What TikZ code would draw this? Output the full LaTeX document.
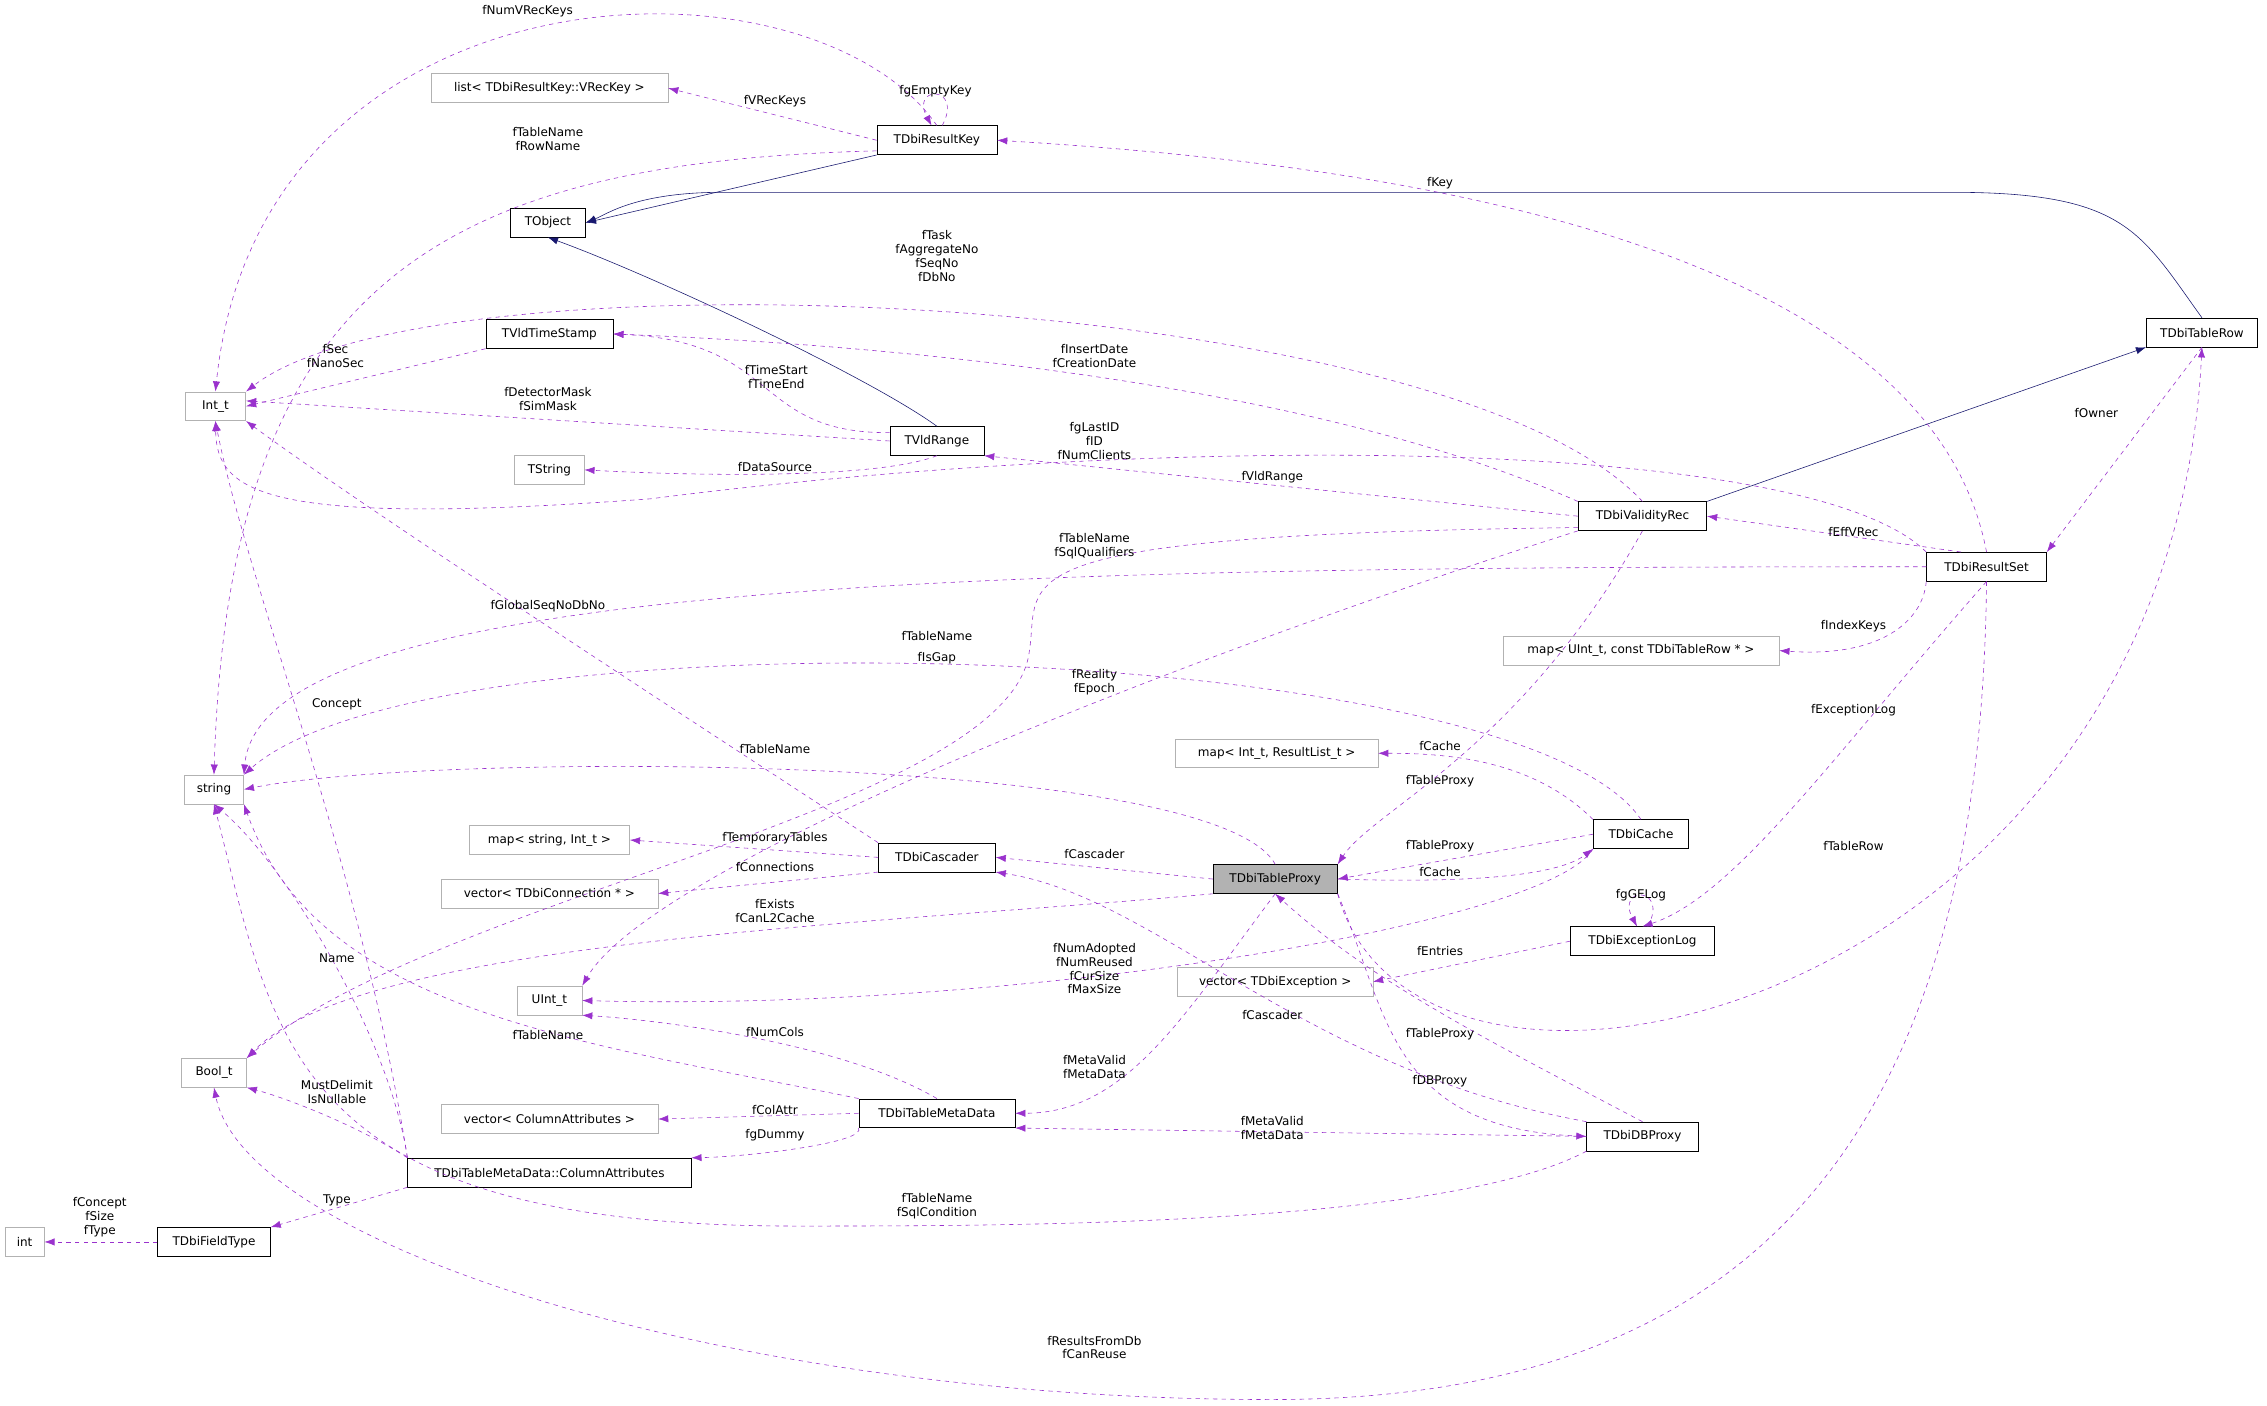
\documentclass[tikz,border=0pt]{standalone}
\usepackage{fontspec}
\setmainfont{DejaVu Sans}
\usetikzlibrary{arrows.meta}
\definecolor{dep}{HTML}{9A32CD}
\definecolor{inh}{HTML}{191970}
\begin{document}
\begin{tikzpicture}[x=1pt,y=-1pt,
  font=\fontsize{8.3}{9.6}\selectfont,
  box/.style={draw=black,fill=white,minimum height=20pt,inner sep=2pt},
  gbox/.style={draw=black!30,fill=white,minimum height=20pt,inner sep=2pt},
  dp/.style={draw=dep,dashed,-{Latex[length=7pt,width=5pt]}},
  ih/.style={draw=inh,-{Latex[length=7pt,width=5pt]}},
  lb/.style={align=center,inner sep=0pt,fill=none}]
\useasboundingbox[fill=white] (0,0) rectangle (1568,972);
% nodes
\node[box,minimum width=52pt] (to) at (379,154) {TObject};
\node[box,minimum width=83pt] (rk) at (648,97) {TDbiResultKey};
\node[gbox,minimum width=164pt] (lst) at (380,61) {list< TDbiResultKey::VRecKey >};
\node[gbox,minimum width=42pt] (int) at (149,281) {Int\_t};
\node[box,minimum width=88pt] (ts) at (380,231) {TVldTimeStamp};
\node[box,minimum width=65pt] (vr) at (648,305) {TVldRange};
\node[gbox,minimum width=48pt] (tstr) at (380,325) {TString};
\node[box,minimum width=77pt] (tr) at (1523,230) {TDbiTableRow};
\node[box,minimum width=89pt] (vrec) at (1136,357) {TDbiValidityRec};
\node[box,minimum width=83pt] (rs) at (1374,392) {TDbiResultSet};
\node[gbox,minimum width=191pt] (mapu) at (1135,450) {map< UInt\_t, const TDbiTableRow * >};
\node[gbox,minimum width=41pt] (str) at (148,546) {string};
\node[gbox,minimum width=140pt] (mapi) at (883,521) {map< Int\_t, ResultList\_t >};
\node[box,minimum width=66pt] (cache) at (1135,577) {TDbiCache};
\node[box,minimum width=86pt,fill=black!30] (tp) at (882,608) {TDbiTableProxy};
\node[box,minimum width=81pt] (cas) at (648,593) {TDbiCascader};
\node[gbox,minimum width=111pt] (maps) at (380,581) {map< string, Int\_t >};
\node[gbox,minimum width=150pt] (vcon) at (380,618) {vector< TDbiConnection * >};
\node[box,minimum width=100pt] (el) at (1136,651) {TDbiExceptionLog};
\node[gbox,minimum width=135pt] (vex) at (882,679) {vector< TDbiException >};
\node[gbox,minimum width=45pt] (uint) at (380,692) {UInt\_t};
\node[gbox,minimum width=45pt] (bool) at (148,742) {Bool\_t};
\node[box,minimum width=108pt] (tmd) at (648,770) {TDbiTableMetaData};
\node[gbox,minimum width=150pt] (vcol) at (380,774) {vector< ColumnAttributes >};
\node[box,minimum width=196pt] (ca) at (380,811) {TDbiTableMetaData::ColumnAttributes};
\node[box,minimum width=77pt] (dbp) at (1136,786) {TDbiDBProxy};
\node[box,minimum width=78pt] (ft) at (148,859) {TDbiFieldType};
\node[gbox,minimum width=27pt] (cint) at (17,859) {int};
% inheritance
\draw[ih] (rk.south west) -- (to.east);
\draw[ih] (vr.north) .. controls (600,260) and (450,190) .. (to.south);
\draw[ih] (tr.north) .. controls (1480,160) and (1470,133) .. (1350,133) -- (500,133) .. controls (440,133) and (420,148) .. (to.east);
\draw[ih] (vrec.north east) -- (tr.south west);
% dependencies
\draw[dp] (rk.north) .. controls (560,-40) and (180,-30) .. (int.north);
\draw[dp] (rk.west) -- (lst.east);
\draw[dp] (rk.70) .. controls +(15,-28) and +(-15,-28) .. (rk.110);
\draw[dp] (rk.190) .. controls (300,112) and (158,200) .. (str.north);
\draw[dp] (rs.north) .. controls (1330,150) and (900,110) .. (rk.east);
\draw[dp] (vrec.north) .. controls (1000,200) and (300,170) .. (int.north east);
\draw[dp] (ts.south west) -- (int.east);
\draw[dp] (vr.west) -- (int.10);
\draw[dp] (vr.170) .. controls (520,300) and (540,236) .. (ts.east);
\draw[dp] (vrec.north west) .. controls (900,262) and (600,238) .. (ts.east);
\draw[dp] (vr.south) .. controls (610,330) and (500,330) .. (tstr.east);
\coordinate (c12) at (450,345);
\draw[dp] (rs.north west) .. controls (1250,300) and (800,300) .. (c12) .. controls (180,365) and (150,340) .. (int.south);
\draw[dp] (vrec.west) -- (vr.south east);
\draw[dp] (tr.south) -- (rs.north east);
\draw[dp] (rs.150) -- (vrec.east);
\draw[dp] (rs.west) .. controls (700,392) and (180,400) .. (str.north east);
\draw[dp] (vrec.190) .. controls (680,370) and (720,400) .. (712,450) .. controls (700,560) and (300,620) .. (bool.north east);
\draw[dp] (cas.north west) .. controls (450,480) and (250,350) .. (int.south east);
\draw[dp] (cache.north) .. controls (1050,440) and (300,420) .. (str.north east);
\draw[dp] (rs.south west) .. controls (1330,430) and (1300,455) .. (mapu.east);
\draw[dp] (vrec.south west) .. controls (800,460) and (450,600) .. (uint.north east);
\draw[dp] (ca.north west) .. controls (250,600) and (170,400) .. (int.south);
\draw[dp] (tp.north) .. controls (840,520) and (300,520) .. (str.east);
\draw[dp] (rs.south) .. controls (1270,520) and (1200,620) .. (el.north);
\draw[dp] (vrec.south) .. controls (1050,520) and (950,560) .. (tp.north east);
\draw[dp] (cache.north west) .. controls (1060,525) and (1000,521) .. (mapi.east);
\draw[dp] (cas.west) -- (maps.east);
\draw[dp] (tp.west) -- (cas.east);
\draw[dp] (cache.west) -- (tp.east);
\draw[dp] (tp.east) .. controls (1050,612) and (1085,600) .. (cache.south west);
\draw[dp] (cas.south west) -- (vcon.east);
\draw[dp] (tp.south west) .. controls (600,640) and (250,650) .. (bool.north east);
\draw[dp] (el.70) .. controls +(15,-28) and +(-15,-28) .. (el.110);
\draw[dp] (cache.south west) .. controls (1070,640) and (700,700) .. (uint.east);
\draw[dp] (el.west) -- (vex.east);
\draw[dp] (ca.north west) .. controls (270,720) and (200,600) .. (str.south);
\draw[dp] (tmd.north west) .. controls (400,720) and (220,700) .. (str.south east);
\draw[dp] (tmd.north) .. controls (580,720) and (450,705) .. (uint.south east);
\draw[dp] (dbp.north west) .. controls (900,740) and (800,620) .. (cas.south east);
\draw[dp] (dbp.north) .. controls (1030,720) and (950,680) .. (tp.south);
\draw[dp] (tp.south) .. controls (820,700) and (780,770) .. (tmd.east);
\draw[dp] (tp.south east) .. controls (960,700) and (960,780) .. (dbp.west);
\draw[dp] (ca.north west) .. controls (250,780) and (200,760) .. (bool.south east);
\draw[dp] (tmd.west) -- (vcol.east);
\draw[dp] (tmd.south west) .. controls (600,790) and (520,800) .. (ca.north east);
\draw[dp] (dbp.west) -- (tmd.south east);
\draw[dp] (ca.south west) -- (ft.north east);
\draw[dp] (ft.west) -- (cint.east);
\coordinate (c49) at (550,848);
\draw[dp] (dbp.south west) .. controls (1000,848) and (700,848) .. (c49) .. controls (200,848) and (190,720) .. (str.south);
\coordinate (c50) at (880,968);
\draw[dp] (rs.south) .. controls (1370,800) and (1200,968) .. (c50) .. controls (500,968) and (170,860) .. (bool.south);
\draw[dp] (tp.south east) .. controls (980,820) and (1500,700) .. (tr.south);
% labels
\node[lb] (l1) at (365,8) {fNumVRecKeys};
\node[lb] (l2) at (536,70) {fVRecKeys};
\node[lb] (l3) at (647,63) {fgEmptyKey};
\node[lb] (l4) at (379,96) {fTableName\\fRowName};
\node[lb] (l5) at (996,127) {fKey};
\node[lb] (l6) at (648,177) {fTask\\fAggregateNo\\fSeqNo\\fDbNo};
\node[lb] (l7) at (232,246) {fSec\\fNanoSec};
\node[lb] (l8) at (379,276) {fDetectorMask\\fSimMask};
\node[lb] (l9) at (537,261) {fTimeStart\\fTimeEnd};
\node[lb] (l10) at (757,246) {fInsertDate\\fCreationDate};
\node[lb] (l11) at (536,323) {fDataSource};
\node[lb] (l12) at (757,305) {fgLastID\\fID\\fNumClients};
\node[lb] (l13) at (880,330) {fVldRange};
\node[lb] (l14) at (1450,286) {fOwner};
\node[lb] (l15) at (1282,368) {fEffVRec};
\node[lb] (l16) at (757,378) {fTableName\\fSqlQualifiers};
\node[lb] (l17) at (648,455) {fIsGap};
\node[lb] (l18) at (379,419) {fGlobalSeqNoDbNo};
\node[lb] (l19) at (648,440) {fTableName};
\node[lb] (l20) at (1282,433) {fIndexKeys};
\node[lb] (l21) at (757,472) {fReality\\fEpoch};
\node[lb] (l22) at (233,487) {Concept};
\node[lb] (l23) at (536,518) {fTableName};
\node[lb] (l24) at (1282,491) {fExceptionLog};
\node[lb] (l25) at (996,540) {fTableProxy};
\node[lb] (l26) at (996,516) {fCache};
\node[lb] (l27) at (536,580) {fTemporaryTables};
\node[lb] (l28) at (757,591) {fCascader};
\node[lb] (l29) at (996,585) {fTableProxy};
\node[lb] (l30) at (996,603) {fCache};
\node[lb] (l31) at (536,600) {fConnections};
\node[lb] (l32) at (536,630) {fExists\\fCanL2Cache};
\node[lb] (l33) at (1135,619) {fgGELog};
\node[lb] (l34) at (757,670) {fNumAdopted\\fNumReused\\fCurSize\\fMaxSize};
\node[lb] (l35) at (996,658) {fEntries};
\node[lb] (l36) at (233,663) {Name};
\node[lb] (l37) at (379,716) {fTableName};
\node[lb] (l38) at (536,714) {fNumCols};
\node[lb] (l39) at (880,702) {fCascader};
\node[lb] (l40) at (996,715) {fTableProxy};
\node[lb] (l41) at (757,738) {fMetaValid\\fMetaData};
\node[lb] (l42) at (996,748) {fDBProxy};
\node[lb] (l43) at (233,755) {MustDelimit\\IsNullable};
\node[lb] (l44) at (536,768) {fColAttr};
\node[lb] (l45) at (536,785) {fgDummy};
\node[lb] (l46) at (880,780) {fMetaValid\\fMetaData};
\node[lb] (l47) at (233,830) {Type};
\node[lb] (l48) at (69,842) {fConcept\\fSize\\fType};
\node[lb] (l49) at (648,834) {fTableName\\fSqlCondition};
\node[lb] (l50) at (757,932) {fResultsFromDb\\fCanReuse};
\node[lb] (l51) at (1282,585) {fTableRow};
\end{tikzpicture}
\end{document}
